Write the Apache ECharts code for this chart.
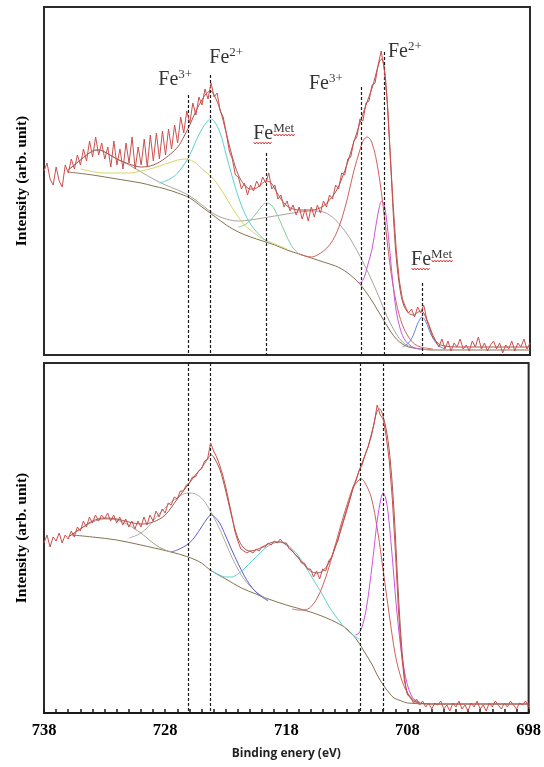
<!DOCTYPE html>
<html><head><meta charset="utf-8">
<script src="https://cdn.jsdelivr.net/npm/echarts/dist/echarts.min.js"></script>
<style>html,body{margin:0;padding:0;background:#fff}#c{width:544px;height:767px}</style>
</head><body><div id="c"></div><script>
// ---------- DATA (binding energy eV, intensity arb. units) ----------
const tickLabels = [738, 728, 718, 708, 698];
const rawStart = 738, rawStep = 0.25;

// Top panel raw spectrum (738 -> 698, step 0.25 eV)
const topRaw = [184,192,176,170,188,174,168,190,182,196,186,200,190,206,194,214,198,218,200,212,
196,208,188,214,190,206,186,212,192,218,186,208,190,216,188,220,194,222,196,224,
200,226,206,230,212,238,222,244,232,252,240,258,250,266,256,272,258,262,244,238,
222,204,196,180,178,166,172,160,170,164,174,168,178,172,182,166,170,156,160,148,
154,144,150,140,148,136,146,134,148,138,150,142,154,148,160,156,170,166,182,180,
196,198,214,218,236,234,252,254,270,272,290,304,286,254,200,148,104,74,56,48,
42,46,38,48,42,50,36,28,20,14,8,16,6,14,4,12,8,16,6,10,
4,14,8,18,6,12,4,10,14,6,12,2,10,6,14,4,12,8,16,6,12];

const topEnvelope = [[736,185],[735,195],[734,204],[733.5,205],[733,203],[732,196],[731,191],[730,188],[729,190],[728,197],[727,208],[726.5,218],[726,230],[725.5,244],[725,255],[724.6,262],[724.3,264],[724,260],[723.5,245],[723,222],[722.5,198],[722,180],[721.5,170],[721,166],[720.5,167],[720,172],[719.7,174],[719.3,172],[719,166],[718.5,156],[718,149],[717.5,146],[717,145],[716,145],[715.5,146],[715,149],[714.5,155],[714,163],[713.5,176],[713,193],[712.5,213],[712,232],[711.5,250],[711,267],[710.7,280],[710.4,293],[710.2,296],[710,288],[709.8,262],[709.6,222],[709.4,175],[709.2,130],[709,96],[708.7,66],[708.4,50],[708,42],[707.6,40],[707.3,42],[707,44],[706.8,43],[706.5,35],[706.2,25],[706,18],[705.5,11],[705,9],[704,8],[701,8],[698,8]];
const topBackground = [[736,183],[734,180],[732,176],[730,172],[729,169],[728,166],[727,162],[726,157],[725,148],[724,139],[723,130],[722,123],[721,118],[720,114],[719,110],[718,105],[717,101],[716,97],[715,93],[714,89],[713.5,86],[713,82],[712.5,77],[712,71],[711.5,63],[711,54],[710.5,44],[710,34],[709.5,24],[709,16],[708.5,11],[708,8],[707,6],[706,5],[702,5],[698,5]];
const topSatellite = [[736,185],[735,195],[734,204],[733.5,205],[733,203],[732,196],[731,190],[730,183],[729,176],[728,170],[727,165],[726,159],[725,150],[724,141],[723,136],[722,134],[721,135],[720,137],[719,139],[718,141],[717,143],[716,144],[715,143],[714.5,140],[714,135],[713.5,128],[713,120],[712.5,110],[712,99],[711.5,87],[711,74],[710.5,60],[710,45],[709.5,32],[709,21],[708.5,13],[708,9],[707,6],[706,5]];
const topFe3p12 = [[735,186],[733,182],[731,182],[730,184],[729,187],[728,191],[727,195],[726.3,196],[725.5,192],[725,186],[724.2,178],[723.5,167],[723,157],[722.5,147],[722,138],[721.5,130],[721,125],[720.5,120],[720,116],[719,111],[718,106]];
const topFe2p12 = [[728.5,172],[728,174],[727.5,177],[727,182],[726.5,190],[726,200],[725.5,214],[725,226],[724.6,233],[724.3,236],[724,234],[723.5,222],[723,200],[722.5,178],[722,158],[721.5,142],[721,131],[720.5,123],[720,117],[719.5,112]];
const topMet12 = [[722,128],[721.5,130],[721,135],[720.5,142],[720,150],[719.7,152],[719.3,150],[719,145],[718.5,132],[718,118],[717.5,107],[717,101]];
const topFe3p32 = [[717,101],[716.5,99],[716,98],[715.5,100],[715,104],[714.5,110],[714,120],[713.5,136],[713,158],[712.5,184],[712,205],[711.7,215],[711.4,218],[711,212],[710.5,185],[710,140],[709.5,88],[709,52],[708.5,30],[708,18],[707.5,11],[707,8],[706,6]];
const topFe2p32 = [[712.2,73],[712,72],[711.7,76],[711.4,88],[711,106],[710.7,128],[710.4,148],[710.2,154],[710,150],[709.8,135],[709.6,112],[709.4,86],[709.2,62],[709,43],[708.7,27],[708.4,17],[708,11],[707.5,7],[707,6]];
const topMet32 = [[708.5,8],[708,12],[707.6,20],[707.3,30],[707,37],[706.9,38],[706.6,34],[706.3,25],[706,17],[705.6,10],[705.2,7],[705,6]];

// Bottom panel raw spectrum (738 -> 698, step 0.25 eV)
const botRaw = [170,178,166,176,172,180,170,178,174,182,176,186,182,192,186,196,190,198,192,198,
194,200,192,198,190,196,188,194,186,192,184,192,186,196,188,198,192,202,196,204,
200,210,208,216,214,222,222,228,230,236,236,242,244,252,254,270,262,256,248,238,
226,212,198,182,172,164,162,160,162,160,164,162,166,166,170,168,172,170,174,170,
170,164,162,158,156,150,150,144,144,136,142,134,144,142,152,156,166,172,184,194,
204,214,226,232,242,248,258,266,278,290,308,298,294,276,252,214,162,104,60,32,
18,16,10,14,8,12,6,10,4,10,8,12,4,8,2,10,6,12,4,8,
2,10,6,12,4,8,2,10,6,12,8,4,10,6,12,8,4,10,8,12,6];

const botEnvelope = [[736,176],[735,184],[734,192],[733,195],[732,194],[731,191],[730,189],[729,191],[728,198],[727,214],[726,230],[725.5,238],[725,245],[724.5,254],[724.2,258],[724,256],[723.5,244],[723,222],[722.5,196],[722,175],[721.5,165],[721,162],[720.5,163],[720,166],[719.5,169],[719,171],[718.5,171],[718,168],[717.5,162],[717,155],[716.5,148],[716,142],[715.5,140],[715,142],[714.5,150],[714,164],[713.5,183],[713,203],[712.5,224],[712,242],[711.5,258],[711,276],[710.7,293],[710.5,302],[710.3,304],[710,296],[709.7,280],[709.4,250],[709.1,200],[708.8,130],[708.5,70],[708.2,32],[708,20],[707.5,12],[707,10],[706,9],[702,9],[698,9]];
const botBackground = [[735.7,178],[734,176],[732,173],[730,168],[728.9,165],[727.5,161],[726.1,156],[725,150],[724.3,143],[723,134],[721.7,125],[720.5,119],[719.7,115],[718,108],[716,101],[714.3,93],[713.1,85],[712.5,78],[712,70],[711.5,60],[710.9,48],[710.5,38],[710,28],[709.5,20],[709.1,15],[708.5,12],[708,10],[706,9],[702,9],[698,9]];
const botSatellite = [[735.7,178],[735,184],[734,191],[733,194],[732,193],[731,188],[730.5,184],[730,180],[729.5,175],[729,170],[728.5,166],[728,163],[727.5,161]];
const botFe3p12 = [[731,175],[730.5,177],[730,180],[729.5,185],[729,192],[728.5,199],[728,205],[727.5,211],[727,215],[726.5,219],[726,220],[725.5,219],[725,215],[724.5,207],[724,196],[723.5,184],[723,170],[722.5,156],[722,144],[721.5,134],[721,127],[720.5,121],[720,117],[719.5,113]];
const botFe2p12 = [[727.5,161],[727,163],[726.5,166],[726,170],[725.5,177],[725,186],[724.5,195],[724.2,198],[724,197],[723.5,190],[723,177],[722.5,163],[722,150],[721.5,138],[721,128],[720.5,121],[720,116],[719.5,112]];
const botSat32 = [[724.3,143],[724,141],[723.5,138],[723,136],[722.5,136],[722,139],[721.5,144],[721,150],[720.5,156],[720,162],[719.5,167],[719,170],[718.5,171],[718,169],[717.5,164],[717,157],[716.5,148],[716,138],[715.5,128],[715,118],[714.5,107],[714,98],[713.5,90],[713,83],[712.5,78],[712,74]];
const botFe3p32 = [[717.5,104],[717,103],[716.5,103],[716,106],[715.5,114],[715,127],[714.5,145],[714,166],[713.5,188],[713,208],[712.5,225],[712,233],[711.8,234],[711.5,230],[711,216],[710.5,185],[710,142],[709.5,98],[709,58],[708.5,34],[708,20],[707.5,13],[707,10]];
const botFe2p32 = [[712.3,78],[712,80],[711.7,88],[711.4,104],[711.1,130],[710.8,160],[710.5,192],[710.2,214],[710,220],[709.8,215],[709.6,200],[709.4,176],[709.2,148],[709,118],[708.8,92],[708.6,70],[708.3,45],[708,28],[707.7,18],[707.4,13],[707,11]];

// Dashed reference lines: [eV, top intensity]
const topGuides = [[726.1,260],[724.3,280],[719.7,202],[711.9,268],[710.0,303],[706.9,72]];
const botGuides = [726.1, 724.3, 711.9, 710.0];

// Peak annotations: [eV, intensity, superscript]
const topLabels = [[727.2,276,'3+'],[723.0,298,'2+'],[719.1,222,'Met'],[714.8,272,'3+'],[708.3,304,'2+'],[706.1,96,'Met']];

// ---------- CHART ----------
const X = e => 738 - e;
const chart = echarts.init(document.getElementById('c'));
function curve(data, color, g, z, smooth) {
  return {type:'line', xAxisIndex:g, yAxisIndex:g, data:data.map(p=>[X(p[0]),p[1]]),
    symbol:'none', smooth: smooth===undefined?0.35:smooth, silent:true, z:z||2,
    lineStyle:{color:color, width:1}};
}
function raw(vals, color, g) {
  return {type:'line', xAxisIndex:g, yAxisIndex:g,
    data: vals.map((v,i)=>[X(rawStart - i*rawStep), v]), symbol:'none', silent:true, z:5,
    lineStyle:{color:color, width:1}};
}
const dash = {symbol:['none','none'], silent:true, label:{show:false},
  lineStyle:{color:'#1a1a1a', type:[3,2], width:1.2}, animation:false};

const series = [
  curve(topBackground,'#857352',0,2),
  curve(topSatellite,'#a9a59c',0,2),
  curve(topFe3p12,'#d9d566',0,2),
  curve(topFe2p12,'#5fcfd6',0,2),
  curve(topMet12,'#7fcf9c',0,2),
  curve(topFe3p32,'#d0625e',0,2),
  curve(topFe2p32,'#c95ad8',0,2),
  curve(topMet32,'#6a88d6',0,2),
  curve(topEnvelope,'#a5574c',0,4),
  raw(topRaw,'#cc4f4f',0),
  curve(botBackground,'#857352',1,2),
  curve(botSatellite,'#a69f88',1,2),
  curve(botFe3p12,'#b3b0a6',1,2),
  curve(botFe2p12,'#5b5fc9',1,2),
  curve(botSat32,'#62d0cf',1,2),
  curve(botFe3p32,'#d0625e',1,2),
  curve(botFe2p32,'#cf55e0',1,2),
  curve(botEnvelope,'#a5574c',1,4),
  raw(botRaw,'#cc4f4f',1)
];
series.push({type:'line', xAxisIndex:0, yAxisIndex:0, data:[], z:6,
  markLine:Object.assign({data: topGuides.map(g=>[{coord:[X(g[0]),g[1]]},{coord:[X(g[0]),0]}])}, dash)});
series.push({type:'line', xAxisIndex:1, yAxisIndex:1, data:[], z:6,
  markLine:Object.assign({data: botGuides.map(e=>[{coord:[X(e),350]},{coord:[X(e),0]}])}, dash)});
series.push({type:'scatter', xAxisIndex:0, yAxisIndex:0, symbolSize:1, z:7, silent:true,
  itemStyle:{color:'rgba(0,0,0,0)'},
  data: topLabels.map(l=>({value:[X(l[0]),l[1]], sup:l[2]})),
  label:{show:true, position:'inside',
    formatter: p => '{b|Fe}{s|' + p.data.sup + '}',
    rich:{
      b:{fontFamily:'Liberation Serif', fontSize:20, color:'#000', verticalAlign:'bottom', lineHeight:22},
      s:{fontFamily:'Liberation Serif', fontSize:13, color:'#000', verticalAlign:'top', lineHeight:12}
    }}});

const yName = {name:'Intensity (arb. unit)', nameLocation:'middle', nameGap:14,
  nameTextStyle:{fontFamily:'Liberation Serif', fontWeight:'bold', fontSize:15.5, color:'#000'},
  axisLine:{show:false}, axisTick:{show:false}, axisLabel:{show:false}, splitLine:{show:false}};

chart.setOption({
  animation:false,
  grid:[
    {left:44, right:14, top:7, height:348, show:true, borderColor:'#2a2a2a', borderWidth:2, backgroundColor:'#fff'},
    {left:44, right:14, top:363, height:350, show:true, borderColor:'#2a2a2a', borderWidth:2, backgroundColor:'#fff'}
  ],
  xAxis:[
    {gridIndex:0, type:'value', min:0, max:40, show:false},
    {gridIndex:1, type:'value', min:0, max:40, interval:10,
      axisLine:{show:true, lineStyle:{color:'#1a1a1a', width:2}},
      axisTick:{show:true, inside:true, length:4, lineStyle:{color:'#1a1a1a', width:1.5}},
      minorTick:{show:true, splitNumber:10, length:4, lineStyle:{color:'#1a1a1a', width:1.5}},
      splitLine:{show:false},
      axisLabel:{margin:9, fontFamily:'Liberation Serif', fontWeight:'bold', fontSize:16.5, color:'#000',
        formatter: v => String(tickLabels[Math.round(v/10)])},
      name:'Binding enery (eV)', nameLocation:'middle', nameGap:35,
      nameTextStyle:{fontFamily:'Open Sans', fontWeight:'bold', fontSize:12, color:'#222'}}
  ],
  yAxis:[
    Object.assign({gridIndex:0, type:'value', min:0, max:348}, yName),
    Object.assign({gridIndex:1, type:'value', min:0, max:350}, yName)
  ],
  series: series
});

// red wavy (spell-check style) underline under the "FeMet" labels
const squiggles = [];
function wave(x0, x1, y) {
  const pts = []; let up = true;
  for (let x = x0; x <= x1; x += 1.5) { pts.push([x, y + (up ? -1 : 1)]); up = !up; }
  return {type:'polyline', silent:true, z:100, shape:{points:pts}, style:{stroke:'#e03a3a', lineWidth:1, fill:null}};
}
topLabels.filter(l => l[2] === 'Met').forEach(l => {
  const p = chart.convertToPixel({gridIndex:0}, [X(l[0]), l[1]]);
  const left = p[0] - 20;
  squiggles.push(wave(left, left + 19, p[1] + 10));
  squiggles.push(wave(left + 20, left + 41, p[1] + 2));
});
chart.setOption({graphic: squiggles});
</script></body></html>
